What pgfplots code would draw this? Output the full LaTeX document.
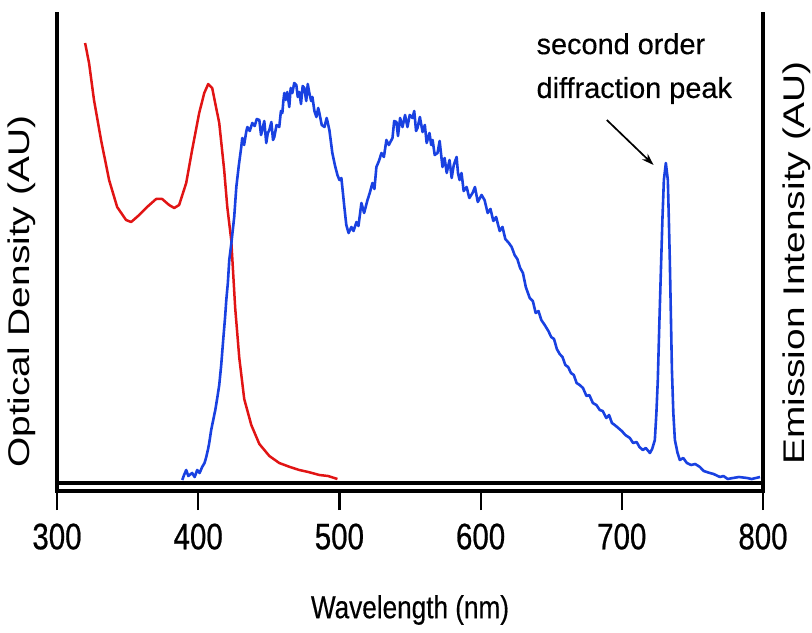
\documentclass[border=0pt]{standalone}
\usepackage{fontspec}
\setmainfont{Liberation Sans}
\newfontfamily\tickfont[FakeStretch=0.8, FakeBold=0.6]{Liberation Sans}
\newfontfamily\xlabfont[FakeStretch=0.82, FakeBold=0.4]{Liberation Sans}
\newfontfamily\ylabfont[FakeStretch=1.3]{Liberation Sans}
\newfontfamily\notefont[FakeBold=0.4]{Liberation Sans}
\usepackage{pgfplots}
\pgfplotsset{compat=1.18}
\usepackage{pgfplotstable}
\usetikzlibrary{arrows.meta}
\definecolor{absred}{RGB}{225,20,20}
\definecolor{emblue}{RGB}{25,65,225}

% absorbance (heights in plot units)
\pgfplotstableread{
nm h
319.9 440
322.7 420
326.2 383
331.2 343
336.9 303
342.6 276
348.9 263
352.5 261
355.0 264
358.2 268
363.8 276
370.2 284
374.5 284
379.4 278
383.0 275
386.5 278
391.5 300
395.7 333
400.7 370
404.3 390
407.1 399
409.9 395
414.9 360
418.4 313
420.6 276
423.4 243
426.2 175
429.1 125
432.6 84
437.6 58
443.3 39
450.4 27
457.4 20
465.0 16
471.6 13
478.0 11
485.8 8
492.0 7
498.6 4
}\absdata

% emission
\pgfplotstableread{
nm h
388.7 3
390.0 8
391.5 13
393.0 7
395.7 10
397.5 6
399.3 13
401.0 10
402.8 16
404.5 20
405.7 26
407.0 34
407.8 40
409.2 53
410.5 62
412.1 73
413.5 85
414.9 98
416.3 118
417.7 143
419.0 165
419.9 183
421.0 200
422.0 223
423.5 240
425.5 266
427.0 296
428.8 318
430.5 336
431.2 345
432.5 338
434.0 351
434.8 356
436.5 352
438.3 360
440.0 357
441.5 364
443.3 363
444.5 348
445.4 353
446.8 362
448.2 340
449.3 350
450.4 353
451.8 361
453.0 343
453.9 346
455.5 358
457.4 356
458.6 372
459.6 370
460.3 382
461.0 390
462.0 383
463.1 391
464.5 376
465.5 395
466.7 390
468.0 400
469.5 398
470.5 386
471.6 391
472.8 379
474.0 397
475.2 395
476.5 382
477.6 399
478.7 390
480.0 382
480.9 386
482.3 372
483.7 366
485.0 375
485.8 370
487.5 358
489.4 356
491.0 365
492.9 353
494.0 341
495.0 330
496.8 318
498.6 308
500.0 303
501.4 305
502.5 290
503.5 276
504.9 258
506.5 250
508.5 256
510.0 252
512.1 261
513.5 257
515.6 280
517.5 270
519.9 283
521.5 290
523.4 300
524.8 294
526.2 316
528.0 322
529.8 330
531.5 326
533.3 343
535.0 338
537.6 345
538.8 362
540.4 361
541.5 347
543.0 365
544.7 356
546.5 368
548.2 356
549.8 368
551.8 365
553.0 372
554.3 352
555.3 355
557.0 366
558.9 351
560.5 358
561.8 340
563.8 350
565.0 338
566.0 343
567.5 328
569.5 330
571.0 342
573.0 316
574.5 325
576.0 310
578.0 323
579.5 305
581.0 318
583.0 326
584.0 310
585.1 303
586.5 310
588.0 292
590.1 296
592.0 285
594.3 290
596.0 296
598.0 281
600.7 288
602.8 283
605.0 270
607.0 274
609.0 262
611.0 266
613.5 252
615.5 256
617.5 244
620.0 240
622.0 236
624.1 228
626.0 224
628.0 215
630.0 210
632.0 196
634.8 185
637.0 182
639.0 170
641.0 172
643.0 163
645.4 158
648.0 152
650.0 146
652.0 144
654.0 134
656.0 129
658.0 126
660.0 118
662.0 116
664.0 110
666.0 108
668.0 100
670.2 98
672.5 95
675.0 87
677.0 88
679.5 80
682.0 78
684.4 73
686.5 72
689.0 65
691.0 68
693.0 60
695.0 58
697.5 55
700.0 52
702.5 48
705.7 45
708.0 40
710.5 41
712.5 36
714.9 33
717.0 35
719.9 30
721.5 34
723.4 43
724.5 70
725.5 103
726.6 160
727.7 213
728.8 265
729.8 303
731.2 320
732.6 303
733.3 265
734.0 223
734.8 165
735.5 113
736.5 70
737.6 43
739.5 30
741.1 23
743.5 25
746.1 20
749.0 18
752.0 19
755.3 16
758.0 12
762.4 10
765.0 9
769.5 6
772.0 7
775.0 4
778.7 5
783.0 6
788.7 5
792.0 4
797.9 6
}\emdata

\begin{document}
\begin{tikzpicture}
\useasboundingbox (-57bp,-150bp) rectangle (755bp,483bp);
\begin{axis}[
  at={(0,0)}, anchor=south west,
  scale only axis,
  width=706bp, height=469bp,
  xmin=300, xmax=800, ymin=0, ymax=469,
  axis x line*=bottom,
  axis x line shift=8bp,
  axis y line=none,
  x axis line style={-, line width=3.2bp},
  xtick={300,400,500,600,700,800},
  xticklabels={300,400,500,600,700,800},
  tick align=outside,
  major tick length=19bp,
  xtick style={line width=2.2bp, black},
  xticklabel style={font=\tickfont\fontsize{37}{40}\selectfont, yshift=-10bp},
  ytick=\empty,
  clip=false,
]
  \addplot[absred, line width=2.5bp, line join=round] table[x=nm, y=h] {\absdata};
  \addplot[emblue, line width=2.6bp, line join=round] table[x=nm, y=h] {\emdata};

  % frame
  \draw[line width=3.2bp, line cap=rect] ([yshift=-8bp]rel axis cs:0,0) -- (rel axis cs:0,1);
  \draw[line width=3.2bp, line cap=rect] (rel axis cs:0,0) -- (rel axis cs:1,0);
  \draw[line width=3.2bp, line cap=rect] ([yshift=-8bp]rel axis cs:1,0) -- (rel axis cs:1,1);

  % annotation
  \node[anchor=north west, align=left, font=\notefont\fontsize{29}{44}\selectfont, inner sep=0pt]
    at (axis cs:639.5,450) {second order\\diffraction peak};
  \draw[-{Stealth[length=12bp, width=8bp]}, line width=1.7bp]
    (axis cs:689.4,363) -- (axis cs:722.5,318);

  % labels
  \node[font=\xlabfont\fontsize{32}{36}\selectfont]
    at ([yshift=-127bp]rel axis cs:0.5,0) {Wavelength (nm)};
  \node[rotate=90, anchor=west, inner sep=0pt, font=\ylabfont\fontsize{30}{34}\selectfont]
    at ([xshift=-35bp, yshift=15bp]rel axis cs:0,0) {Optical Density (AU)};
  \node[rotate=90, anchor=west, inner sep=0pt, font=\ylabfont\fontsize{30}{34}\selectfont]
    at ([xshift=34bp, yshift=18bp]rel axis cs:1,0) {Emission Intensity (AU)};
\end{axis}
\end{tikzpicture}
\end{document}
